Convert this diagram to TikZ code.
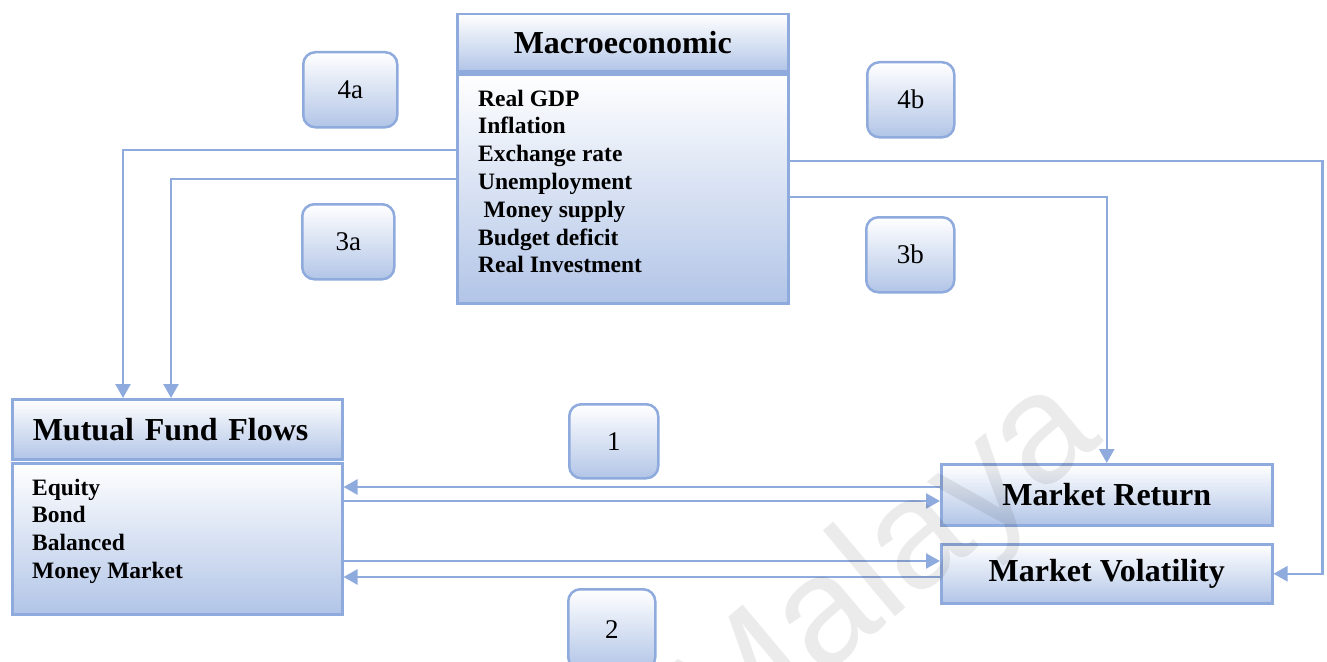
\documentclass[tikz,border=0pt]{standalone}
\usepackage{fontspec}
\setmainfont{Liberation Serif}
\newfontfamily\wmfont{Liberation Sans}
\usetikzlibrary{arrows.meta,calc}
\definecolor{edge}{RGB}{143,170,220}
\definecolor{boxblue}{RGB}{178,197,231}
\begin{document}
\begin{tikzpicture}[x=1pt,y=-1pt,
  hbox/.style={draw=edge, line width=2.5pt, top color=white, bottom color=boxblue,
    anchor=north west, inner sep=0pt, font=\fontsize{32}{38}\selectfont\bfseries},
  tagbox/.style={draw=edge, line width=2.5pt, rounded corners=12pt, top color=white,
    bottom color=boxblue, anchor=north west, inner sep=0pt, font=\fontsize{27}{32}\selectfont},
  listtext/.style={anchor=base west, inner sep=0pt, font=\fontsize{23.5}{27.8}\selectfont\bfseries},
  arr/.style={draw=edge, line width=2.5pt, -{Triangle[length=14pt,width=15pt]}}
]
\useasboundingbox (0,0) rectangle (1327,661);

% Macroeconomic
\node[hbox, minimum width=331pt, minimum height=57pt] (macroH) at (456,13) {Macroeconomic};
\node[hbox, minimum width=331pt, minimum height=229pt] (macroB) at (456,73) {};
\node[listtext] (macroT) at (478,106) {\begin{tabular}[t]{@{}l@{}}Real GDP\\Inflation\\Exchange rate\\Unemployment\\\hspace*{5.5pt}Money supply\\Budget deficit\\Real Investment\end{tabular}};

% Mutual Fund Flows
\node[hbox, minimum width=330pt, minimum height=60pt, text width=289pt, align=left, inner xsep=20.5pt] (mffH) at (11,398) {Mutual Fund Flows};
\node[hbox, minimum width=330pt, minimum height=151pt] (mffB) at (11,462) {};
\node[listtext] (mffT) at (32,495) {\begin{tabular}[t]{@{}l@{}}Equity\\Bond\\Balanced\\Money Market\end{tabular}};

% Market boxes
\node[hbox, minimum width=331pt, minimum height=61pt] (mr) at (940,463) {Market Return};
\node[hbox, minimum width=331pt, minimum height=59pt] (mv) at (940,543) {Market Volatility};

% Tags
\node[tagbox, minimum width=94pt, minimum height=75pt] (t4a) at (302,51) {4a};
\node[tagbox, minimum width=92pt, minimum height=75pt] (t3a) at (301,203) {3a};
\node[tagbox, minimum width=87pt, minimum height=75pt] (t4b) at (866,61) {4b};
\node[tagbox, minimum width=88pt, minimum height=75pt] (t3b) at (865,216) {3b};
\node[tagbox, minimum width=89pt, minimum height=74pt] (t1) at (568,403) {1};
\node[tagbox, minimum width=87pt, minimum height=80pt] (t2) at (567,588) {2};

% Connectors from Macroeconomic
\draw[arr] (macroB.west |- 0,150) -| ($(mffH.north west)+(112,0)$);
\draw[arr] (macroB.west |- 0,179) -| ($(mffH.north west)+(160,0)$);
\draw[arr] (macroB.east |- 0,161) -| ($(mv.east)+(49,0)$) -- (mv.east);
\draw[arr] (macroB.east |- 0,197) -| (mr.north);

% Connectors between funds and market
\draw[arr] (mr.west |- 0,487) -- (mffB.east |- 0,487);
\draw[arr] (mffB.east |- 0,501) -- (mr.west |- 0,501);
\draw[arr] (mffB.east |- 0,561) -- (mv.west |- 0,561);
\draw[arr] (mv.west |- 0,577) -- (mffB.east |- 0,577);

% Watermark
\node[anchor=base west, rotate=40, inner sep=0pt, font=\fontsize{155}{155}\selectfont\wmfont,
  text=black, text opacity=0.08] (wm) at (722,762) {Malaya};
\end{tikzpicture}
\end{document}
